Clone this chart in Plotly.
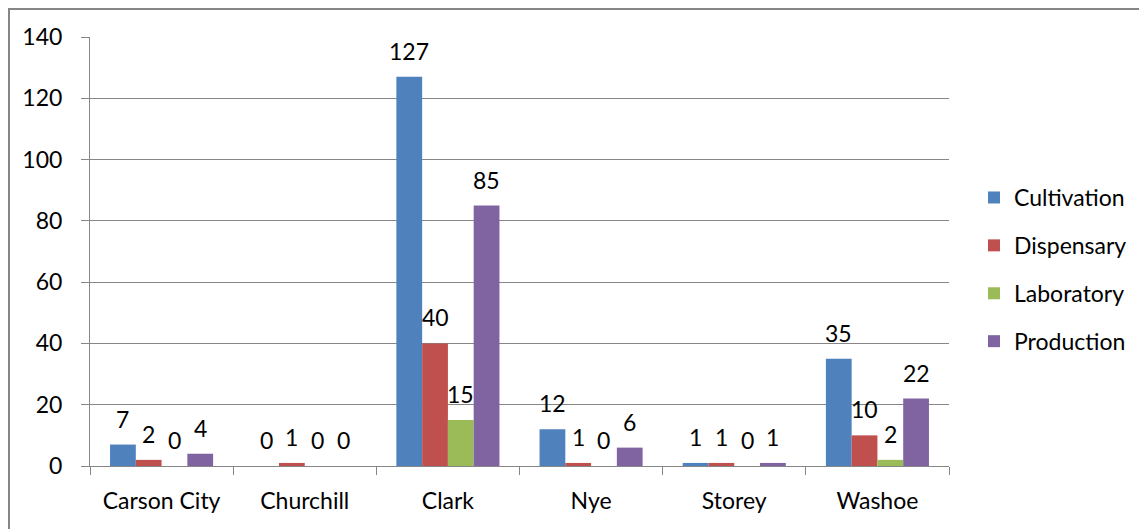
import plotly.graph_objects as go

counties = ["Carson City", "Churchill", "Clark", "Nye", "Storey", "Washoe"]
cultivation = [7, 0, 127, 12, 1, 35]
dispensary = [2, 1, 40, 1, 1, 10]
laboratory = [0, 0, 15, 0, 0, 2]
production = [4, 0, 85, 6, 1, 22]

series = [
    ("Cultivation", cultivation, "#4F81BD"),
    ("Dispensary", dispensary, "#C0504D"),
    ("Laboratory", laboratory, "#9BBB59"),
    ("Production", production, "#8064A2"),
]

# page has an 8px body margin, so the figure is slightly smaller than the window
W, H = 1139, 521
ML, MR, MT, MB = 82, 198, 29, 63
FONT = "Lato, Calibri, sans-serif"
FS = 23
BARGAP = 0.28

pw = W - ML - MR
ph = H - MT - MB
bar_px = pw / len(counties) * (1 - BARGAP) / len(series)

fig = go.Figure()
for i, (name, vals, color) in enumerate(series):
    fig.add_trace(go.Bar(
        x=counties,
        y=vals,
        name=name,
        legendgroup=f"g{i}",
        marker=dict(color=color, line=dict(width=0)),
    ))
    # Excel-style data labels floating a bit above each bar
    for c, v in zip(counties, vals):
        fig.add_annotation(
            x=c, y=v, text=str(v), showarrow=False,
            xref="x", yref="y", yanchor="bottom",
            xshift=(i - (len(series) - 1) / 2) * bar_px, yshift=10,
            font=dict(size=FS, color="black", family=FONT),
        )

# outer chart border (top and left edges of the chart frame)
fig.add_shape(type="line", xref="paper", yref="paper",
              x0=-ML / pw, x1=(W + 5 - ML) / pw, y0=(ph + MT - 1) / ph, y1=(ph + MT - 1) / ph,
              line=dict(color="#868686", width=2))
fig.add_shape(type="line", xref="paper", yref="paper",
              x0=-(ML - 1) / pw, x1=-(ML - 1) / pw, y0=(ph + MT) / ph, y1=-(MB + 5) / ph,
              line=dict(color="#868686", width=2))

fig.update_layout(
    width=W,
    height=H,
    margin=dict(l=ML, r=MR, t=MT, b=MB, autoexpand=False),
    barmode="group",
    bargap=BARGAP,
    bargroupgap=0,
    plot_bgcolor="white",
    paper_bgcolor="white",
    font=dict(family=FONT, size=FS, color="black"),
    showlegend=True,
    legend=dict(
        x=(966 - ML) / pw, xanchor="left",
        y=0.458, yanchor="middle",
        font=dict(size=FS, family=FONT),
        tracegroupgap=15,
        itemwidth=30,
        bgcolor="rgba(0,0,0,0)",
    ),
    xaxis=dict(
        showline=True, linecolor="#868686", linewidth=1,
        ticks="outside", tickson="boundaries", ticklen=8, tickcolor="#868686",
        showgrid=False,
        ticklabelstandoff=14,
        tickfont=dict(size=FS, family=FONT),
        automargin=False,
    ),
    yaxis=dict(
        range=[0, 140], dtick=20,
        showline=True, linecolor="#868686", linewidth=1,
        ticks="outside", ticklen=8, tickcolor="#868686",
        showgrid=True, gridcolor="#868686", gridwidth=1,
        zeroline=False,
        ticklabelstandoff=14,
        tickfont=dict(size=FS, family=FONT),
        automargin=False,
    ),
)

fig.write_html("out.html")
